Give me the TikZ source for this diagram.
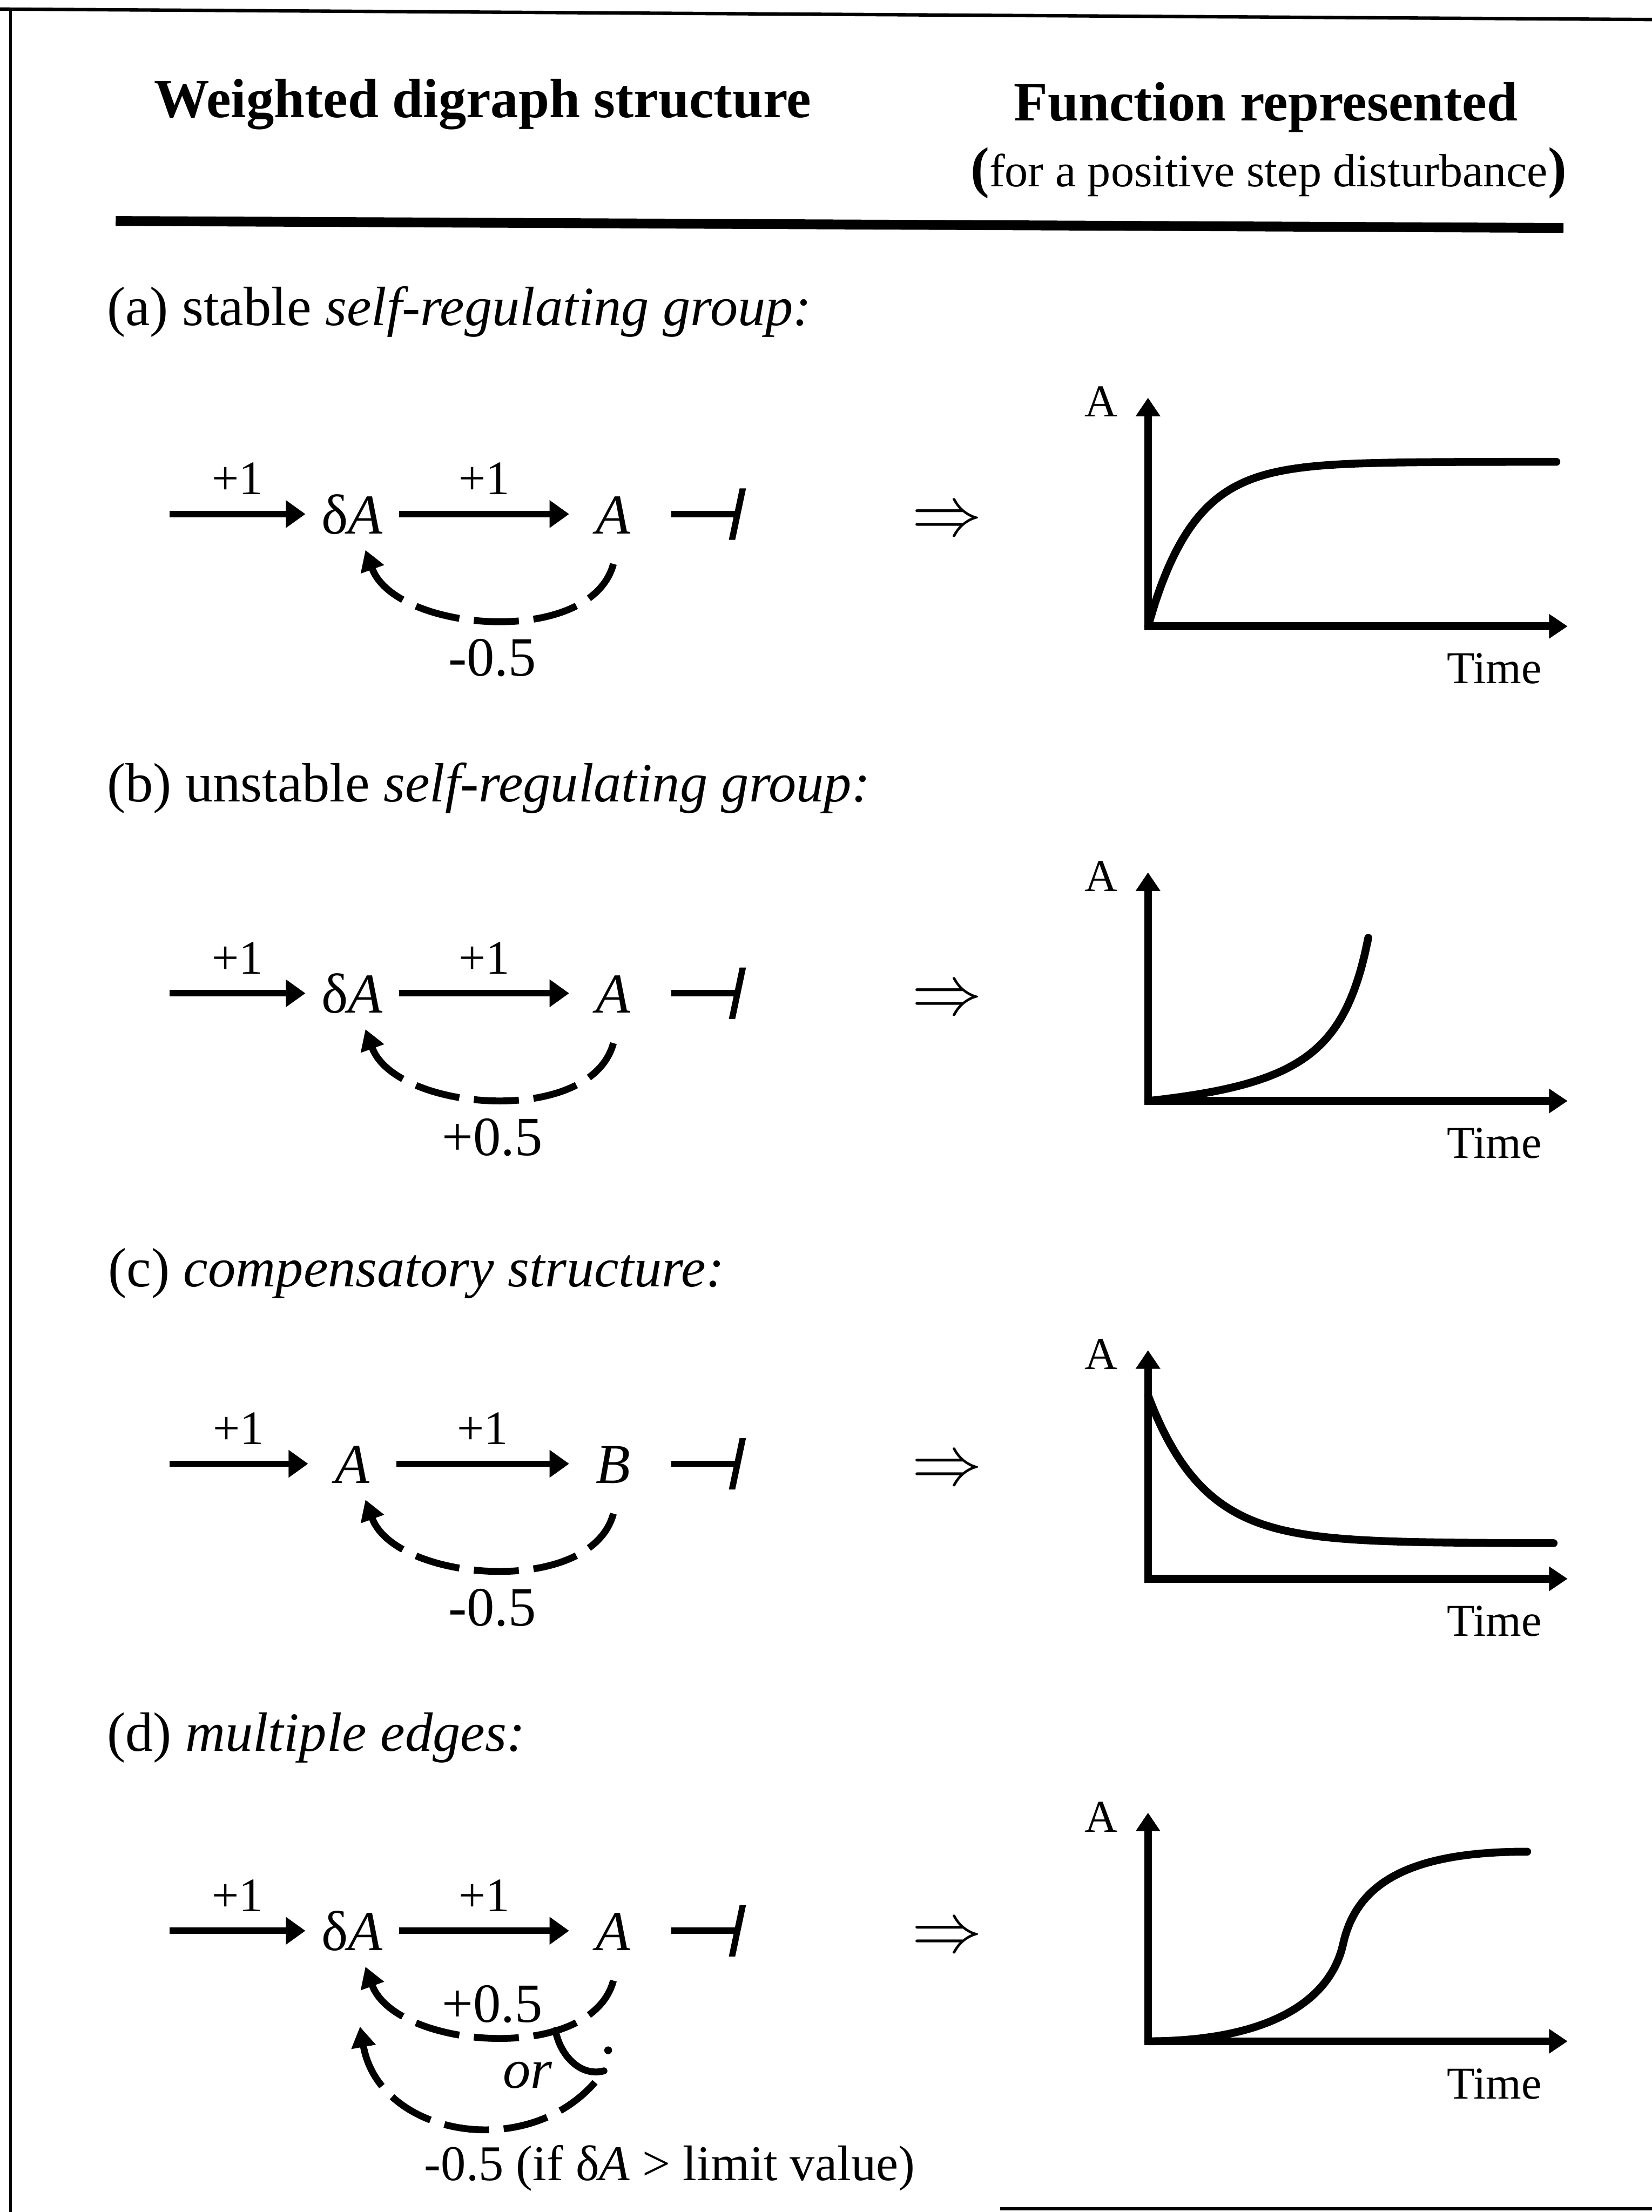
\documentclass[tikz,border=0pt]{standalone}
\usepackage{fontspec}
\setmainfont{Liberation Serif}
\usetikzlibrary{arrows.meta}

\tikzset{
  hdr/.style={font=\fontsize{11.3}{13}\selectfont\bfseries},
  sub/.style={font=\fontsize{9.5}{11}\selectfont},
  rowtitle/.style={font=\fontsize{11.3}{13}\selectfont, anchor=base west, inner sep=0},
  var/.style={font=\fontsize{11.5}{13}\selectfont, inner sep=0.11cm, minimum width=0.62cm, text height=8pt, text depth=0pt},
  wt/.style={font=\fontsize{9.8}{11}\selectfont},
  fbw/.style={font=\fontsize{11.3}{13}\selectfont},
  ax/.style={font=\fontsize{9.3}{11}\selectfont},
  link/.style={line width=1.3pt, -{Triangle[length=4pt,width=5.4pt]}},
  stop/.style={line width=1.3pt, -{Bar[width=10.5pt,slant=0.21]}, shorten <=0.1cm},
  fb/.style={line width=1.4pt, dash pattern=on 9.2pt off 3pt, {Triangle[length=4.2pt,width=4.8pt]}-},
  frameax/.style={line width=1.6pt, {Triangle[length=3.8pt,width=4.8pt]}-{Triangle[length=3.8pt,width=4.8pt]}},
  trend/.style={line width=1.6pt, line cap=round}
}

\begin{document}
\begin{tikzpicture}
  \useasboundingbox (0,0) rectangle (11.85,-15.8675);
  \draw[line width=0.7pt] (0,-0.065) -- (11.85,-0.14);
  \draw[line width=0.6pt] (0.075,-0.06) -- (0.075,-15.8675);
  \draw[line width=0.7pt] (7.175,-15.845) -- (11.85,-15.845);

  \node[hdr, anchor=base] (hleft) at (3.4625,-0.8425) {Weighted digraph structure};
  \node[hdr, anchor=base] (hright) at (9.08,-0.8675) {Function represented};
  \node[sub, anchor=base] (hsub) at (9.1,-1.34) {{\bfseries\fontsize{11.5}{13}\selectfont(}for a positive step disturbance{\bfseries\fontsize{11.5}{13}\selectfont)}};
  \draw[line width=2pt] (0.83,-1.585) -- (11.215,-1.635);

  \node[rowtitle] (ta) at (0.76,-2.3325) {(a) stable \textit{self-regulating group:}};
  \node[rowtitle] (tb) at (0.76,-5.7525) {(b) unstable \textit{self-regulating group:}};
  \node[rowtitle] (tc) at (0.77,-9.2275) {(c) \textit{compensatory structure:}};
  \node[rowtitle] (td) at (0.76,-12.5625) {(d) \textit{multiple edges:}};

  \foreach \r/\y/\oy/\first/\second in {a/-3.6875/-0.805/{δ\textit{A}}/\textit{A},
      b/-7.125/-0.7725/{δ\textit{A}}/\textit{A}, c/-10.5/-0.825/\textit{A}/\textit{B},
      d/-13.85/-0.7925/{δ\textit{A}}/\textit{A}}{
    \begin{scope}[yshift=\y cm]
      \coordinate (in\r) at (1.215,0);
      \node[var] (n1\r) at (2.5275,0) {\first};
      \node[var] (n2\r) at (4.4,0) {\second};
      \coordinate (sink\r) at (5.3125,0);
      \draw[link] (in\r) -- (n1\r) node[wt, midway, above] {+1};
      \draw[link] (n1\r) -- (n2\r) node[wt, midway, above] {+1};
      \draw[stop] (n2\r) -- (sink\r);
      \node[font=\fontsize{13.8}{15}\selectfont] (imp\r) at (6.795,-0.06) {$\Rightarrow$};
      \coordinate (o\r) at (8.235,\oy);
      \draw[frameax] ([yshift=1.64cm]o\r) -- (o\r) -- ([xshift=3.01cm]o\r);
      \node[ax] (ya\r) at ([shift={(-0.335,1.61)}]o\r) {A};
      \node[ax] (xa\r) at ([shift={(2.485,-0.305)}]o\r) {Time};
    \end{scope}
  }

  \draw[fb] (n1a.-70) to[out=-70,in=-105,looseness=0.9] node[fbw, below] (wa) {-0.5} ([yshift=-0.1cm]n2a.south);
  \draw[fb] (n1b.-70) to[out=-70,in=-105,looseness=0.9] node[fbw, below] (wb) {+0.5} ([yshift=-0.1cm]n2b.south);
  \draw[fb] (n1c.-70) to[out=-70,in=-105,looseness=0.9] node[fbw, below] (wc) {-0.5} ([yshift=-0.1cm]n2c.south);
  \draw[fb] (n1d.-70) to[out=-70,in=-105,looseness=0.9] node[fbw, above, inner sep=2pt] (wd) {+0.5} coordinate[pos=0.7] (fork) ([yshift=-0.1cm]n2d.south);
  \coordinate (hook) at (4.3325,-14.855);
  \draw[line width=1.4pt, line cap=round] (fork) to[out=-80,in=195] (hook);
  \draw[fb] ([yshift=-0.43cm]n1d.-78) to[out=-80,in=-125,looseness=1.18] (hook);
  \fill (4.3625,-14.7075) circle (0.028);
  \node[fbw] (or) at (3.785,-14.8875) {\textit{or}};
  \node[font=\fontsize{10.2}{12}\selectfont, anchor=base west, inner sep=0] (wd2) at (3.0375,-15.6425) {-0.5 (if δ\textit{A} > limit value)};

  \draw[trend, shift={(oa)}] plot[smooth, domain=0:2.93, samples=60] (\x,{1.18*(1-exp(-\x/0.33))});
  \draw[trend, shift={(ob)}] plot[smooth, domain=0:1.58, samples=60] (\x,{0.37*(1/(1.85-\x)-1/1.85)});
  \draw[trend, shift={(oc)}] plot[smooth, domain=0:2.91, samples=60] (\x,{0.255+1.06*exp(-\x/0.4)});
  \draw[trend, shift={(od)}] (0,0) .. controls (0.8,0) and (1.3,0.25) .. (1.4,0.7) .. controls (1.5,1.15) and (1.9,1.36) .. (2.72,1.36);
\end{tikzpicture}
\end{document}
